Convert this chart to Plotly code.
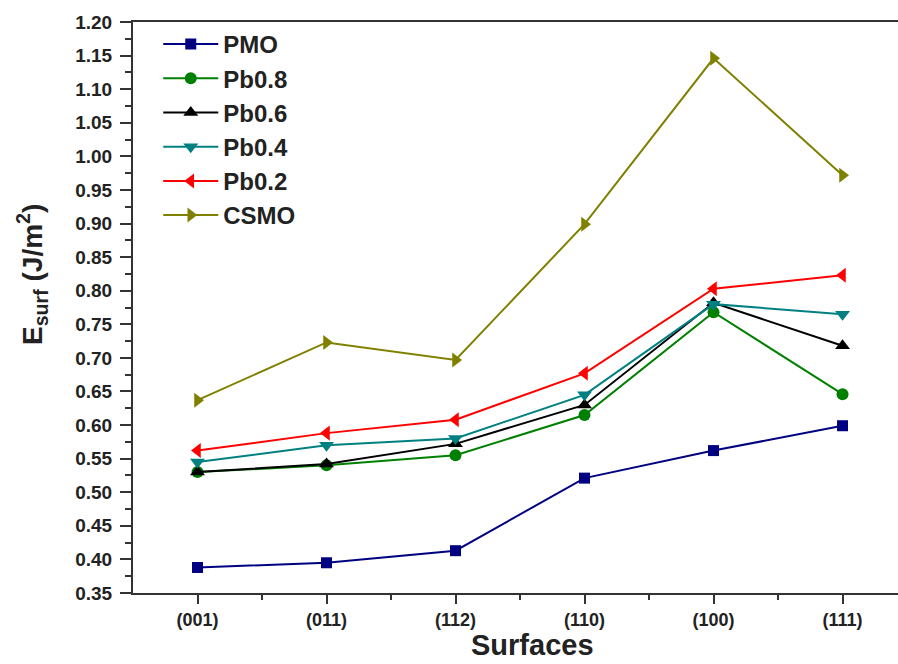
import plotly.graph_objects as go

surfaces = ["(001)", "(011)", "(112)", "(110)", "(100)", "(111)"]
pmo = [0.388, 0.395, 0.413, 0.521, 0.562, 0.599]
pb08 = [0.530, 0.540, 0.555, 0.615, 0.768, 0.646]
pb06 = [0.530, 0.542, 0.572, 0.630, 0.782, 0.718]
pb04 = [0.545, 0.570, 0.580, 0.645, 0.780, 0.765]
pb02 = [0.562, 0.588, 0.608, 0.677, 0.803, 0.823]
csmo = [0.637, 0.723, 0.697, 0.899, 1.146, 0.972]

series = [
    ("PMO", pmo, "#000080", "square", 11),
    ("Pb0.8", pb08, "#008000", "circle", 12),
    ("Pb0.6", pb06, "#000000", "triangle-up", 13),
    ("Pb0.4", pb04, "#008080", "triangle-down", 13),
    ("Pb0.2", pb02, "#ff0000", "triangle-left", 13),
    ("CSMO", csmo, "#808000", "triangle-right", 13),
]

xs = list(range(len(surfaces)))
fig = go.Figure()
for name, vals, col, sym, sz in series:
    fig.add_trace(go.Scatter(
        x=xs, y=vals, name=name, mode="lines+markers",
        line=dict(color=col, width=2),
        marker=dict(symbol=sym, size=sz, color=col),
    ))

font = "Arial, Liberation Sans, sans-serif"
txt = "#222"
fig.update_layout(
    width=898, height=664,
    margin=dict(l=133, r=0, t=22, b=71),
    paper_bgcolor="white", plot_bgcolor="white",
    font=dict(family=font, color=txt),
    showlegend=True,
    legend=dict(
        x=0.033, y=1.0, xanchor="left", yanchor="top",
        font=dict(size=24, family=font, color=txt, weight="bold"),
        bgcolor="rgba(0,0,0,0)", itemwidth=55,
    ),
    xaxis=dict(
        range=[-0.5, 5.43],
        tickvals=xs, ticktext=surfaces,
        showline=True, linecolor="#333", linewidth=2, mirror=True,
        ticks="outside", ticklen=9, tickwidth=2, tickcolor="#333",
        minor=dict(tickvals=[0.5, 1.5, 2.5, 3.5, 4.5], ticks="outside", ticklen=5, tickwidth=2, tickcolor="#333"),
        showgrid=False, zeroline=False,
        tickfont=dict(size=18, family=font, color=txt, weight="bold"),
    ),
    yaxis=dict(
        range=[0.35, 1.20],
        dtick=0.05, tick0=0.35, tickformat=".2f",
        showline=True, linecolor="#333", linewidth=2, mirror=False,
        ticks="outside", ticklen=11, tickwidth=2, tickcolor="#333",
        minor=dict(dtick=0.025, ticks="outside", ticklen=6, tickwidth=2, tickcolor="#333"),
        showgrid=False, zeroline=False, ticklabelstandoff=4,
        tickfont=dict(size=19, family=font, color=txt, weight="bold"),
    ),
    annotations=[
        dict(
            text="E<sub>surf</sub> (J/m<sup>2</sup>)", textangle=-90,
            xref="paper", yref="paper", x=-0.132, y=0.557,
            xanchor="center", yanchor="middle", showarrow=False,
            font=dict(size=28, family=font, color=txt, weight="bold"),
        ),
        dict(
            text="Surfaces",
            xref="paper", yref="paper", x=0.5216, y=-0.091,
            xanchor="center", yanchor="middle", showarrow=False,
            font=dict(size=29, family=font, color=txt, weight="bold"),
        ),
    ],
)

fig.write_html("out.html", config={"displayModeBar": False},
               post_script="document.body.style.margin='0';")
